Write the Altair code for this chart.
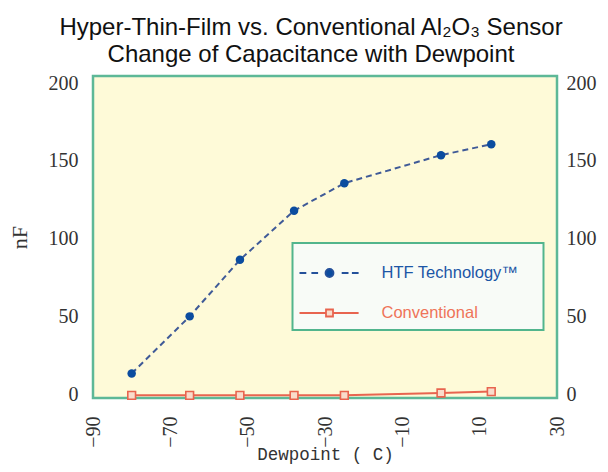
import altair as alt
import pandas as pd

# ---- data ----
dewpoint = [-80, -65, -52, -38, -25, 0, 13]
htf_nf = [13.5, 50.2, 86.5, 118, 135.7, 153.7, 160.7]
conv_nf = [-0.5, -0.5, -0.5, -0.5, -0.5, 1.0, 1.9]
series_names = ["HTF Technology\u2122", "Conventional"]
x_ticks = [-90, -70, -50, -30, -10, 10, 30]
y_ticks = [0, 50, 100, 150, 200]

df = pd.DataFrame({
    "Dewpoint": dewpoint + dewpoint,
    "nF": htf_nf + conv_nf,
    "Series": [series_names[0]] * len(dewpoint) + [series_names[1]] * len(dewpoint),
})

# ---- styling ----
BLUE_DOT = "#0b4c9f"
BLUE_LINE = "#3f5a97"
RED = "#e8644f"
PINK = "#f9dccb"
TEXT = "#333333"

x_scale = alt.Scale(domain=[-90, 30], nice=False, zero=False)
y_scale = alt.Scale(domain=[-2.2, 204.5], nice=False, zero=False)

x_axis = alt.Axis(values=x_ticks, labelAngle=270, ticks=False, tickSize=0, domain=False,
                  grid=False, labelFlush=False, labelOverlap=False,
                  labelFont="Liberation Serif", labelFontSize=20, labelColor=TEXT,
                  labelPadding=18, titleFont="Liberation Mono", titleFontSize=17.5,
                  titleFontWeight="normal", titleColor=TEXT, titlePadding=-2)
y_axis_left = alt.Axis(values=y_ticks, orient="left", ticks=False, tickSize=0, domain=False,
                       grid=False, labelFont="Liberation Serif", labelFontSize=20,
                       labelColor=TEXT, labelPadding=15, titleFont="Liberation Serif",
                       titleFontSize=22, titleFontWeight="normal", titleColor=TEXT,
                       titlePadding=17)
y_axis_right = alt.Axis(values=y_ticks, orient="right", ticks=False, tickSize=0, domain=False,
                        grid=False, labelFont="Liberation Serif", labelFontSize=20,
                        labelColor=TEXT, labelPadding=9, title=None)

base = alt.Chart(df)
X = alt.X("Dewpoint:Q", scale=x_scale, axis=x_axis, title="Dewpoint (  C)")
Y = alt.Y("nF:Q", scale=y_scale, axis=y_axis_left, title="nF")

htf_line = base.transform_filter(alt.datum.Series == series_names[0]).mark_line(
    color=BLUE_LINE, strokeWidth=2, strokeDash=[6, 4]).encode(x=X, y=Y)
htf_pts = base.transform_filter(alt.datum.Series == series_names[0]).mark_point(
    shape="circle", filled=True, color=BLUE_DOT, size=72, opacity=1).encode(x=X, y=Y)
conv_line = base.transform_filter(alt.datum.Series == series_names[1]).mark_line(
    color=RED, strokeWidth=2).encode(x=X, y=Y)
conv_pts = base.transform_filter(alt.datum.Series == series_names[1]).mark_point(
    shape="square", filled=False, fill=PINK, stroke=RED, strokeWidth=1.6, size=60,
    opacity=1).encode(x=X, y=Y)

# legend symbols: line + marker drawn as custom paths
htf_path = ("M-1.2,0H-0.52M-0.01,0H0.66M3.02,0H3.7M4.04,0H4.71"
            "M2.2,0A0.4,0.4,0,1,1,1.4,0A0.4,0.4,0,1,1,2.2,0Z")
conv_path = "M-1.2,0H1.45M2.15,0H4.71M1.45,-0.35H2.15V0.35H1.45Z"

legend = alt.Legend(
    orient="none", legendX=199.5, legendY=167,
    title="M" * 39, titleFont="Liberation Mono", titleFontSize=10, titlePadding=1,
    titleOpacity=0, titleLimit=0,
    fillColor="#f8fbf7", strokeColor="#52b58d", padding=8,
    symbolSize=400, symbolStrokeWidth=1.8, symbolOpacity=1,
    labelFont="Liberation Sans", labelFontSize=16.5, labelOffset=59, labelLimit=0,
    labelColor=alt.ExprRef(expr="datum.value == 'Conventional' ? '#ef7459' : '#1c56a6'"),
    rowPadding=20,
)
legend_layer = base.mark_point(opacity=0).encode(
    x=X, y=Y,
    shape=alt.Shape("Series:N", scale=alt.Scale(domain=series_names, range=[htf_path, conv_path]),
                    legend=legend),
    fill=alt.Fill("Series:N", scale=alt.Scale(domain=series_names, range=[BLUE_DOT, PINK]),
                  legend=legend),
    stroke=alt.Stroke("Series:N", scale=alt.Scale(domain=series_names, range=["#24509a", RED]),
                      legend=legend),
)

inner = alt.layer(htf_line, conv_line, htf_pts, conv_pts, legend_layer)

right_axis = base.mark_point(opacity=0).encode(
    x=X,
    y=alt.Y("nF:Q", scale=y_scale, axis=y_axis_right),
)

chart = alt.layer(inner, right_axis).resolve_scale(y="independent").properties(
    width=464, height=322,
    title=alt.TitleParams(
        text=["Hyper-Thin-Film vs. Conventional Al\u2082O\u2083 Sensor",
              "Change of Capacitance with Dewpoint"],
        font="Liberation Sans", fontSize=24, fontWeight="normal", color="#111111",
        lineHeight=27, anchor="middle", frame="group", dx=-14, offset=6),
    autosize=alt.AutoSizeParams(type="none"),
    padding={"left": 85, "top": 68, "right": 43, "bottom": 66},
).configure_view(
    stroke="#5db897", strokeWidth=2.5, fill="#fefad8"
).configure_legend(strokeWidth=2)

chart.save("out.html", embed_options={"renderer": "svg", "actions": False})
